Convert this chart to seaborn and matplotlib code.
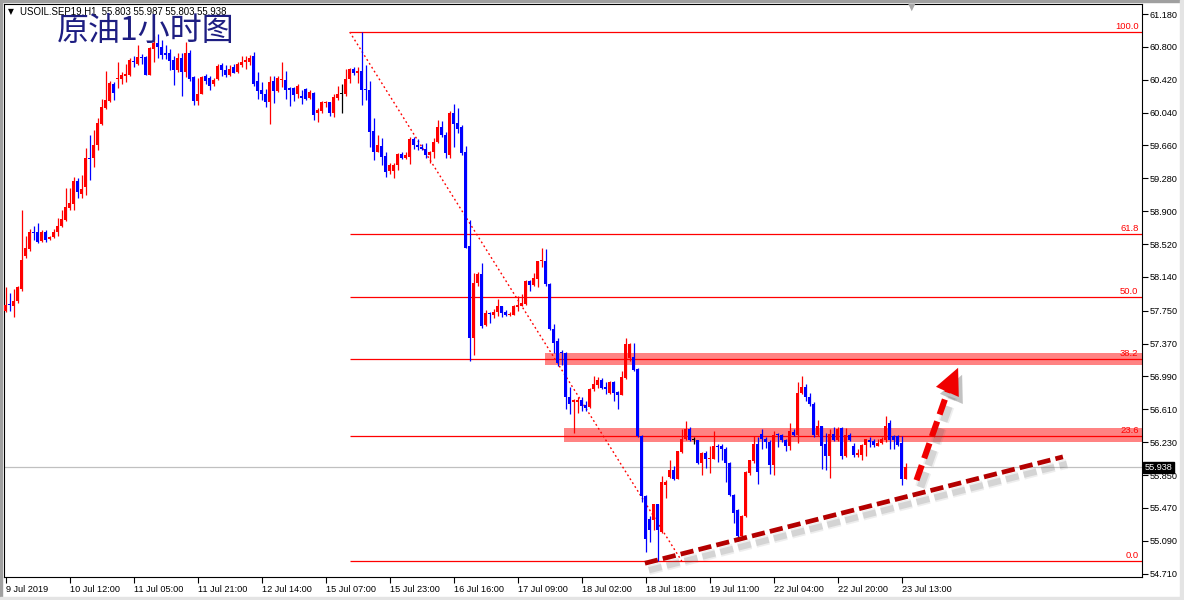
import numpy as np
import matplotlib
matplotlib.use("Agg")
import matplotlib.pyplot as plt
import matplotlib.transforms as mtransforms
from matplotlib.patches import Rectangle
import seaborn as sns

# hourly candles USOIL.SEP19 H1 (oldest first)
opens = [57.75, 57.83, 57.80, 57.86, 58.00, 58.38, 58.46, 58.66, 58.66, 58.56,
         58.66, 58.58, 58.60, 58.66, 58.73, 58.80, 58.94, 58.98, 59.25, 59.10,
         59.18, 59.51, 59.51, 59.66, 59.91, 60.09, 60.17, 60.37, 60.43, 60.43,
         60.46, 60.48, 60.63, 60.60, 60.68, 60.68, 60.48, 60.78, 60.84, 60.80,
         60.73, 60.73, 60.65, 60.53, 60.67, 60.51, 60.73, 60.45, 60.18, 60.26,
         60.46, 60.44, 60.37, 60.43, 60.59, 60.53, 60.48, 60.57, 60.51, 60.59,
         60.62, 60.63, 60.69, 60.40, 60.30, 60.26, 60.16, 60.41, 60.29, 60.42,
         60.42, 60.32, 60.32, 60.25, 60.23, 60.31, 60.21, 60.27, 60.03, 60.06,
         60.15, 60.16, 60.03, 60.21, 60.26, 60.25, 60.43, 60.55, 60.50, 60.52,
         60.31, 60.30, 59.83, 59.59, 59.65, 59.54, 59.37, 59.36, 59.43, 59.56,
         59.51, 59.53, 59.74, 59.67, 59.64, 59.62, 59.55, 59.59, 59.70, 59.87,
         59.78, 59.55, 60.03, 59.92, 59.87, 59.59, 58.50, 57.43, 58.07, 58.18,
         57.58, 57.72, 57.70, 57.74, 57.81, 57.73, 57.70, 57.70, 57.79, 57.80,
         57.83, 58.09, 58.05, 58.12, 58.32, 58.32, 58.06, 57.54, 57.40, 57.27,
         57.26, 56.75, 56.69, 56.70, 56.72, 56.66, 56.64, 56.84, 56.89, 56.95,
         56.87, 56.80, 56.93, 56.81, 56.78, 56.97, 57.20, 57.21, 57.08, 56.30,
         55.61, 55.34, 55.33, 55.51, 55.19, 55.74, 55.83, 55.91, 55.80, 56.12,
         56.27, 56.38, 56.25, 56.25, 55.99, 56.11, 56.04, 56.04, 56.19, 56.18,
         56.15, 55.99, 55.62, 55.44, 55.14, 55.38, 55.87, 56.01, 56.21, 56.32,
         56.27, 56.23, 55.97, 56.33, 56.31, 56.25, 56.19, 56.35, 56.31, 56.80,
         56.87, 56.75, 56.67, 56.31, 56.42, 56.21, 56.07, 56.32, 56.25, 56.39,
         56.07, 56.31, 56.19, 56.08, 56.08, 56.20, 56.25, 56.24, 56.19, 56.22,
         56.25, 56.45, 56.30, 56.30, 56.22, 55.803]
highs = [58.02, 57.96, 58.00, 58.03, 58.91, 58.61, 58.69, 58.73, 58.76, 58.68,
         58.68, 58.61, 58.70, 58.82, 58.91, 59.17, 59.17, 59.30, 59.28, 59.32,
         59.63, 59.78, 59.84, 59.98, 60.20, 60.52, 60.40, 60.39, 60.63, 60.51,
         60.60, 60.67, 60.70, 60.82, 60.72, 60.70, 60.80, 60.93, 60.95, 60.88,
         60.82, 60.78, 60.69, 60.73, 60.73, 60.86, 60.76, 60.46, 60.44, 60.46,
         60.49, 60.46, 60.44, 60.60, 60.61, 60.59, 60.59, 60.60, 60.62, 60.70,
         60.69, 60.71, 60.74, 60.51, 60.39, 60.31, 60.46, 60.46, 60.46, 60.63,
         60.52, 60.34, 60.34, 60.37, 60.30, 60.32, 60.30, 60.28, 60.09, 60.17,
         60.17, 60.16, 60.26, 60.35, 60.37, 60.54, 60.56, 60.57, 60.57, 60.97,
         60.59, 60.41, 59.98, 59.78, 59.75, 59.59, 59.46, 59.46, 59.57, 59.59,
         59.58, 59.76, 59.76, 59.73, 59.68, 59.69, 59.60, 59.75, 59.96, 59.94,
         59.82, 60.06, 60.14, 60.09, 59.90, 59.65, 58.80, 58.19, 58.20, 58.30,
         57.76, 57.73, 57.77, 57.88, 57.81, 57.76, 57.74, 57.82, 57.92, 57.94,
         58.11, 58.11, 58.19, 58.33, 58.47, 58.46, 58.07, 57.60, 57.43, 57.30,
         57.27, 56.87, 56.73, 56.75, 56.75, 56.71, 56.86, 57.00, 56.98, 56.97,
         56.92, 56.94, 56.94, 56.82, 57.05, 57.43, 57.38, 57.38, 57.09, 56.31,
         55.62, 55.38, 55.51, 55.52, 55.84, 55.79, 56.02, 55.95, 56.13, 56.38,
         56.48, 56.40, 56.29, 56.25, 56.12, 56.13, 56.19, 56.36, 56.21, 56.21,
         56.17, 56.00, 55.63, 55.46, 55.39, 55.90, 56.02, 56.30, 56.29, 56.38,
         56.29, 56.25, 56.36, 56.34, 56.32, 56.27, 56.45, 56.38, 56.93, 57.00,
         56.90, 56.80, 56.69, 56.49, 56.42, 56.34, 56.38, 56.40, 56.40, 56.40,
         56.39, 56.34, 56.22, 56.15, 56.21, 56.27, 56.29, 56.27, 56.27, 56.29,
         56.53, 56.49, 56.31, 56.31, 56.30, 55.987]
lows = [57.73, 57.75, 57.68, 57.84, 57.98, 58.36, 58.44, 58.57, 58.53, 58.55,
        58.55, 58.57, 58.59, 58.61, 58.72, 58.79, 58.92, 58.91, 59.05, 59.05,
        59.09, 59.26, 59.41, 59.61, 59.90, 60.08, 60.16, 60.19, 60.33, 60.37,
        60.39, 60.46, 60.57, 60.59, 60.60, 60.48, 60.48, 60.62, 60.67, 60.66,
        60.66, 60.53, 60.36, 60.51, 60.23, 60.45, 60.40, 60.13, 60.13, 60.26,
        60.37, 60.30, 60.35, 60.42, 60.46, 60.45, 60.46, 60.50, 60.50, 60.57,
        60.55, 60.59, 60.35, 60.20, 60.19, 60.10, 59.91, 60.15, 60.28, 60.34,
        60.20, 60.12, 60.17, 60.21, 60.14, 60.19, 60.20, 59.95, 59.93, 60.03,
        60.11, 60.00, 59.99, 60.19, 60.03, 60.23, 60.38, 60.48, 60.38, 60.13,
        60.19, 59.64, 59.49, 59.59, 59.44, 59.30, 59.33, 59.28, 59.38, 59.50,
        59.50, 59.45, 59.62, 59.61, 59.61, 59.52, 59.46, 59.51, 59.69, 59.76,
        59.51, 59.51, 59.64, 59.80, 59.55, 58.47, 57.17, 57.24, 58.03, 57.55,
        57.57, 57.61, 57.67, 57.69, 57.68, 57.69, 57.69, 57.70, 57.75, 57.80,
        57.82, 57.98, 58.03, 58.02, 58.25, 58.03, 57.53, 57.26, 57.11, 57.12,
        56.61, 56.55, 56.34, 56.57, 56.59, 56.59, 56.63, 56.82, 56.86, 56.84,
        56.79, 56.79, 56.71, 56.61, 56.77, 56.96, 57.17, 57.05, 56.29, 55.54,
        54.96, 55.08, 55.21, 54.86, 55.18, 55.59, 55.82, 55.79, 55.80, 56.11,
        56.25, 56.24, 56.21, 55.98, 55.85, 55.93, 55.87, 56.03, 56.00, 56.02,
        55.77, 55.61, 55.30, 55.09, 55.13, 55.36, 55.85, 55.99, 55.75, 56.15,
        56.16, 55.86, 55.85, 56.17, 56.23, 56.13, 56.14, 56.30, 56.22, 56.79,
        56.71, 56.65, 56.29, 56.30, 55.92, 55.91, 55.82, 56.24, 56.24, 56.03,
        56.06, 56.24, 56.06, 56.06, 56.02, 56.07, 56.17, 56.17, 56.18, 56.21,
        56.23, 56.15, 56.15, 56.19, 55.73, 55.803]
closes = [57.82, 57.82, 57.86, 58.02, 58.34, 58.48, 58.66, 58.65, 58.55, 58.66,
          58.57, 58.60, 58.66, 58.73, 58.81, 58.95, 59.00, 59.25, 59.12, 59.16,
          59.52, 59.50, 59.67, 59.92, 60.11, 60.19, 60.38, 60.27, 60.44, 60.47,
          60.49, 60.65, 60.62, 60.68, 60.67, 60.48, 60.79, 60.84, 60.80, 60.71,
          60.71, 60.64, 60.53, 60.67, 60.51, 60.73, 60.43, 60.18, 60.26, 60.45,
          60.40, 60.35, 60.42, 60.58, 60.53, 60.48, 60.55, 60.50, 60.60, 60.63,
          60.65, 60.67, 60.37, 60.29, 60.25, 60.16, 60.39, 60.29, 60.44, 60.43,
          60.30, 60.30, 60.24, 60.35, 60.21, 60.20, 60.28, 60.01, 60.07, 60.16,
          60.16, 60.03, 60.22, 60.26, 60.26, 60.43, 60.55, 60.50, 60.52, 60.30,
          60.30, 59.82, 59.59, 59.66, 59.53, 59.35, 59.43, 59.44, 59.56, 59.51,
          59.55, 59.74, 59.66, 59.64, 59.62, 59.55, 59.59, 59.70, 59.87, 59.78,
          59.57, 60.03, 59.91, 59.85, 59.57, 58.48, 57.43, 58.07, 58.18, 57.57,
          57.72, 57.71, 57.74, 57.80, 57.72, 57.70, 57.71, 57.80, 57.82, 57.84,
          58.09, 58.05, 58.13, 58.32, 58.33, 58.06, 57.54, 57.38, 57.15, 57.26,
          56.75, 56.67, 56.72, 56.72, 56.65, 56.63, 56.85, 56.90, 56.95, 56.86,
          56.85, 56.93, 56.80, 56.78, 56.98, 57.36, 57.36, 57.07, 56.30, 55.61,
          55.11, 55.21, 55.51, 55.21, 55.77, 55.77, 55.91, 55.80, 56.13, 56.27,
          56.38, 56.25, 56.25, 55.99, 56.11, 56.04, 56.05, 56.19, 56.17, 56.15,
          55.99, 55.62, 55.41, 55.14, 55.38, 55.89, 56.02, 56.21, 55.89, 56.27,
          56.23, 55.97, 56.31, 56.31, 56.25, 56.19, 56.36, 56.31, 56.80, 56.87,
          56.75, 56.67, 56.31, 56.42, 56.19, 56.07, 56.32, 56.25, 56.38, 56.07,
          56.31, 56.25, 56.08, 56.11, 56.20, 56.27, 56.23, 56.20, 56.22, 56.27,
          56.42, 56.25, 56.25, 56.20, 55.80, 55.938]

date_labels = ["9 Jul 2019", "10 Jul 12:00", "11 Jul 05:00", "11 Jul 21:00",
               "12 Jul 14:00", "15 Jul 07:00", "15 Jul 23:00", "16 Jul 16:00",
               "17 Jul 09:00", "18 Jul 02:00", "18 Jul 18:00", "19 Jul 11:00",
               "22 Jul 04:00", "22 Jul 20:00", "23 Jul 13:00"]
price_ticks = [61.180, 60.800, 60.420, 60.040, 59.660, 59.280, 58.900, 58.520,
               58.140, 57.750, 57.370, 56.990, 56.610, 56.230, 55.850, 55.470,
               55.090, 54.710]

# fibonacci retracement drawn on the chart
fib_pcts = [100.0, 61.8, 50.0, 38.2, 23.6, 0.0]
fib_high, fib_low = 60.972, 54.856
fib_from, fib_to = 86, 169

# resistance zones (from bar, low, high)
zones = [(134.8, 57.122, 57.257), (139.6, 56.235, 56.397)]

last_price = 55.938
header = "USOIL.SEP19,H1  55.803 55.987 55.803 55.938"
title = "原油1小时图"

# hand drawn trend line and projected arrow (bar index, price)
trend_x, trend_y = [159.8, 264.3], [54.83, 56.06]
arrow_x, arrow_y = [227.7, 235.6], [55.79, 56.83]
arrow_tip = (238.1, 57.09)

BULL, BEAR, DOJI = "#FF0000", "#0000FF", "#000000"
FIB_RED = "#FF0000"

sns.set_style("white")
plt.rcParams["font.family"] = ["Liberation Sans", "DejaVu Sans"]

fig = plt.figure(figsize=(11.84, 6.0), dpi=100)
fig.patch.set_facecolor("white")
ax = fig.add_axes([4 / 1184, 23 / 600, 1137.5 / 1184, 573 / 600])
ax.set_facecolor("white")

x = np.arange(len(closes))
o = np.array(opens)
c = np.array(closes)
colors = np.where(c > o, BULL, np.where(c < o, BEAR, DOJI))

# zones and levels behind the candles
for x0, lo, hi in zones:
    ax.fill_between([x0, 300], lo, hi, color="#FF8383", lw=0, zorder=1)
ax.axhline(last_price, color="#C0C0C0", lw=0.9, zorder=1.5)

fib_prices = [fib_low + (fib_high - fib_low) * p / 100 for p in fib_pcts]
label_tr = mtransforms.offset_copy(
    mtransforms.blended_transform_factory(ax.transAxes, ax.transData),
    fig=fig, x=-3, y=1, units="dots")
for p, lvl in zip(fib_pcts, fib_prices):
    ax.hlines(lvl, fib_from, 300, color=FIB_RED, lw=0.9, zorder=2)
    ax.text(1.0, lvl, f"{p:.1f}", transform=label_tr, ha="right", va="bottom",
            color=FIB_RED, fontsize=6.8, zorder=6)

sns.lineplot(x=[fib_from, fib_to], y=[fib_high, fib_low], ax=ax, color=FIB_RED,
             lw=1.0, dashes=False, linestyle=(0, (1.3, 2.0)), zorder=2)

# candles
ax.vlines(x, lows, highs, colors=colors, lw=0.9, zorder=3)
body = np.maximum(np.abs(c - o), 0.012)
ax.bar(x, body, bottom=np.minimum(o, c), width=0.75, color=colors,
       linewidth=0, zorder=4)

# trend line + arrow with soft (blurred looking) shadow
shadows = [
    (mtransforms.offset_copy(ax.transData, fig=fig, x=4, y=-7, units="dots"), 7.0, 0.10),
    (mtransforms.offset_copy(ax.transData, fig=fig, x=4, y=-7, units="dots"), 4.5, 0.18),
]
for tr, w, a in shadows:
    ax.plot(trend_x, trend_y, color="#606060", alpha=a, lw=w,
            dashes=(2.8 * 3.4 / w, 1.1 * 3.4 / w), transform=tr, zorder=5)
    ax.plot(arrow_x, arrow_y, color="#606060", alpha=a, lw=w + 1,
            dashes=(2.6 * 4.4 / (w + 1), 1.2 * 4.4 / (w + 1)), transform=tr,
            zorder=5)
    ax.annotate("", xy=arrow_tip, xytext=(arrow_x[1], arrow_y[1]),
                xycoords=tr, textcoords=tr,
                arrowprops=dict(arrowstyle="-|>,head_length=0.95,head_width=0.45",
                                color="#606060", alpha=a * 1.5, lw=0,
                                shrinkA=0, shrinkB=0, mutation_scale=20),
                zorder=5)

ax.plot(trend_x, trend_y, color="#B40000", lw=3.4, dashes=(2.8, 1.1), zorder=6)
ax.plot(arrow_x, arrow_y, color="#F00000", lw=4.4, dashes=(2.6, 1.2), zorder=6)
ax.annotate("", xy=arrow_tip, xytext=(arrow_x[1], arrow_y[1]),
            arrowprops=dict(arrowstyle="-|>,head_length=0.95,head_width=0.45",
                            color="#F00000", lw=0, shrinkA=0, shrinkB=0,
                            mutation_scale=20), zorder=6)

ax.set_xlim(-0.43, 283.95)
ax.set_ylim(54.671, 61.296)

ax.yaxis.tick_right()
ax.set_yticks(price_ticks)
ax.set_yticklabels([f"{v:.3f}" for v in price_ticks])
ax.tick_params(axis="y", direction="out", length=4, width=0.8, pad=2,
               labelsize=6.6, colors="black", right=True, left=False)
ax.set_xticks(np.arange(0, len(closes), 16))
ax.set_xticklabels(date_labels)
ax.tick_params(axis="x", direction="out", length=4, width=0.8, pad=2,
               labelsize=6.6, colors="black", bottom=True)
for lbl in ax.get_xticklabels():
    lbl.set_ha("left")
for s in ax.spines.values():
    s.set_color("black")
    s.set_linewidth(0.8)
ax.set_xlabel("")
ax.set_ylabel("")

# current price box on the scale
ax.text(1.0, last_price, f"{last_price:.3f}",
        transform=mtransforms.offset_copy(
            mtransforms.blended_transform_factory(ax.transAxes, ax.transData),
            fig=fig, x=3, y=0, units="dots"),
        ha="left", va="center", color="white", fontsize=6.6, zorder=10,
        bbox=dict(boxstyle="square,pad=0.15", fc="black", ec="black"),
        clip_on=False)

# header and title
fig.text(8 / 1184, 1 - 12 / 600, "▼", fontsize=5.5, family="DejaVu Sans",
         va="center", ha="left", color="black")
fig.text(20 / 1184, 1 - 12 / 600, header, fontsize=6.9, va="center",
         ha="left", color="black")
fig.text(57 / 1184, 1 - 31 / 600, title, fontsize=23, color="#1E1E82",
         family=["Noto Sans CJK SC", "DejaVu Sans"], va="center", ha="left")
fig.text(912 / 1184, 1 - 7 / 600, "▼", fontsize=7, family="DejaVu Sans",
         color="#A8A8A8", va="center", ha="center")

# window frame
fig.patches.append(Rectangle((0, 0), 2 / 1184, 1, transform=fig.transFigure,
                             color="#A0A0A0", zorder=0))
fig.patches.append(Rectangle((0, 1 - 2 / 600), 1, 2 / 600,
                             transform=fig.transFigure, color="#A0A0A0", zorder=0))
fig.patches.append(Rectangle((0, 0), 1, 3 / 600, transform=fig.transFigure,
                             color="#E4E4E4", zorder=0))
fig.patches.append(Rectangle((1180 / 1184, 0), 4 / 1184, 1,
                             transform=fig.transFigure, color="#E4E4E4", zorder=0))

fig.savefig("out.png", dpi=100, facecolor="white")
